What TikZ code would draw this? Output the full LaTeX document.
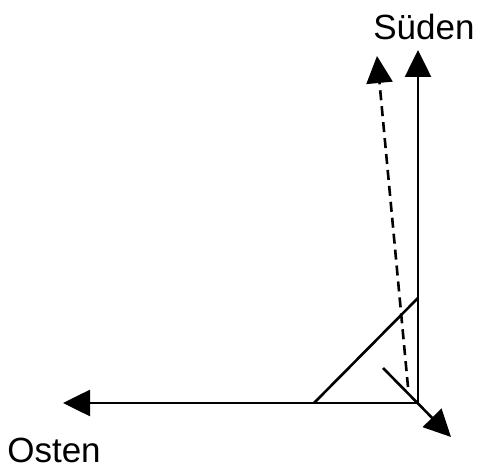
\documentclass[tikz,border=0pt]{standalone}
\usepackage{fontspec}
\setmainfont{Liberation Sans}
\usetikzlibrary{arrows.meta, positioning}

\begin{document}
\begin{tikzpicture}[x=1pt, y=-1pt, >={Triangle[length=27pt,width=26pt]}, line width=2.6pt,
  lbl/.style={font=\fontsize{35}{40}\selectfont, inner sep=0pt, anchor=base west}]
\useasboundingbox (0,0) rectangle (482,470);
\coordinate (O) at (418,403);
\coordinate (S) at (418,50);
\coordinate (E) at (63,403);
\coordinate (D1) at (408,387);
\coordinate (D2) at (377,56);
\coordinate (K1) at (314,403);
\coordinate (K2) at (418,298);
\coordinate (A1) at (383,368);
\coordinate (A2) at (451,437);
\node[lbl] (sued) at (372,40) {Süden};
\node[lbl] (ost) at (6,462) {Osten};
\draw[->] (O) -- (S);
\draw[->] (O) -- (E);
\draw[->, dashed, dash pattern=on 10pt off 6pt] (D1) -- (D2);
\draw (K1) -- (K2);
\draw[->] (A1) -- (A2);

\end{tikzpicture}
\end{document}
